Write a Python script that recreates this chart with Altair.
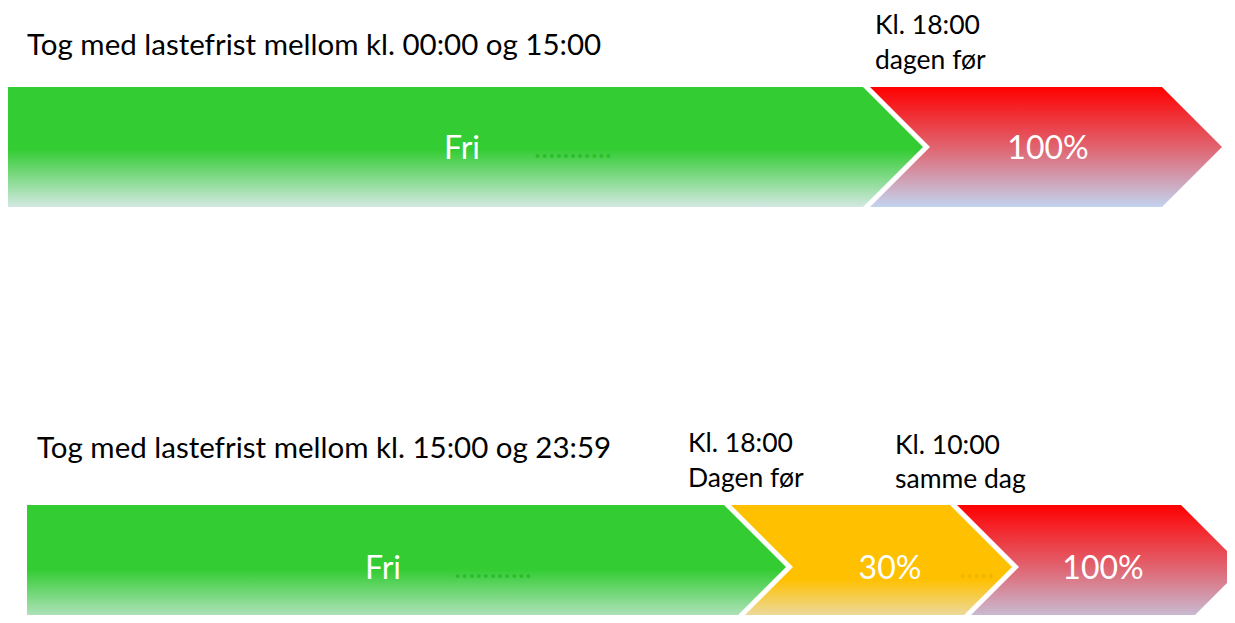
import altair as alt
import pandas as pd

# ---- data ----
row_names = ["top", "bottom"]
row_top = [87, 505]
row_bottom = [207, 629]

seg_row = ["top", "top", "bottom", "bottom", "bottom"]
seg_start = [7, 870, 27, 731, 957]
seg_end = [863, 1162, 724, 950, 1181]
seg_kind = ["green", "red", "green", "yellow", "red"]
gap = 7

seg_label = ["Fri", "100%", "Fri", "30%", "100%"]
seg_label_x = [462, 1048, 383, 890, 1103]

note_text = ["Tog med lastefrist mellom kl. 00:00 og 15:00", "Kl. 18:00", "dagen før",
             "Tog med lastefrist mellom kl. 15:00 og 23:59", "Kl. 18:00", "Dagen før",
             "Kl. 10:00", "samme dag"]
note_x = [27, 875, 875, 37, 688, 688, 895, 895]
note_y = [55, 34, 69, 458, 452, 487, 454, 488]
note_size = [29.5, 26.5, 26.5, 29.5, 26.5, 26.5, 26.5, 26.5]

dots_text = ["...........", "...........", "....."]
dots_x = [534, 454, 959]
dots_y = [158, 578, 578]
dots_color = ["#2BBE2B", "#2BBE2B", "#F2B500"]

W, H = 1219, 607
xs = alt.Scale(domain=[8, 8 + W], nice=False, zero=False)
ys = alt.Scale(domain=[8, 8 + H], nice=False, zero=False, reverse=True)


def grad(stops):
    return alt.Gradient(gradient="linear", x1=0, x2=0, y1=0, y2=1,
                        stops=[alt.GradientStop(color=c, offset=o) for o, c in stops])


fills = {
    "green": grad([(0, "#33CC33"), (0.52, "#33CC33"), (1, "#D3E8E2")]),
    "red": grad([(0, "#FF0000"), (0.5, "#E0636F"), (1, "#C2D3EE")]),
    "yellow": grad([(0, "#FFC000"), (0.6, "#FFC000"), (1, "#E4E3D6")]),
    "white": "#FFFFFF",
}


def shape(x0, x1, top, bot):
    depth = (bot - top) / 2
    mid = (top + bot) / 2
    return pd.DataFrame({"x": [x0, x1, x1 + depth], "y": [top, top, mid], "y2": [bot, bot, mid]})


def area(df, kind):
    return alt.Chart(df).mark_area(fill=fills[kind], opacity=1, orient="vertical",
                                   interpolate="linear", strokeWidth=0).encode(
        x=alt.X("x:Q", scale=xs, axis=None),
        y=alt.Y("y:Q", scale=ys, axis=None),
        y2="y2:Q",
    )


layers = []
for r, top, bot in zip(row_names, row_top, row_bottom):
    idx = [i for i, s in enumerate(seg_row) if s == r]
    last = idx[-1]
    layers.append(area(shape(seg_start[last], seg_end[last], top, bot), seg_kind[last]))
    for i in reversed(idx[:-1]):
        layers.append(area(shape(seg_start[i] + gap, seg_end[i] + gap, top, bot), "white"))
        layers.append(area(shape(seg_start[i], seg_end[i], top, bot), seg_kind[i]))

dots_df = pd.DataFrame({"x": dots_x, "y": dots_y, "t": dots_text, "c": dots_color})
layers.append(alt.Chart(dots_df).mark_text(align="left", baseline="alphabetic", font="Lato",
                                           fontSize=30).encode(
    x=alt.X("x:Q", scale=xs, axis=None), y=alt.Y("y:Q", scale=ys, axis=None),
    text="t:N", color=alt.Color("c:N", scale=None)))

lab_df = pd.DataFrame({
    "x": seg_label_x,
    "y": [(row_top[row_names.index(r)] + row_bottom[row_names.index(r)]) / 2 + 12 for r in seg_row],
    "t": seg_label,
})
layers.append(alt.Chart(lab_df).mark_text(align="center", baseline="alphabetic", font="Lato",
                                          fontSize=32, color="#FFFFFF").encode(
    x=alt.X("x:Q", scale=xs, axis=None), y=alt.Y("y:Q", scale=ys, axis=None), text="t:N"))

note_df = pd.DataFrame({"x": note_x, "y": note_y, "t": note_text, "s": note_size})
layers.append(alt.Chart(note_df).mark_text(align="left", baseline="alphabetic", font="Lato",
                                           color="#000000").encode(
    x=alt.X("x:Q", scale=xs, axis=None), y=alt.Y("y:Q", scale=ys, axis=None), text="t:N",
    size=alt.Size("s:Q", scale=None)))

chart = alt.layer(*layers).properties(
    width=W, height=H, autosize=alt.AutoSizeParams(type="none"), padding=0,
    background="#FFFFFF"
).configure_view(stroke="transparent", strokeWidth=0)

chart.save("out.html", embed_options={"renderer": "svg", "actions": False})
